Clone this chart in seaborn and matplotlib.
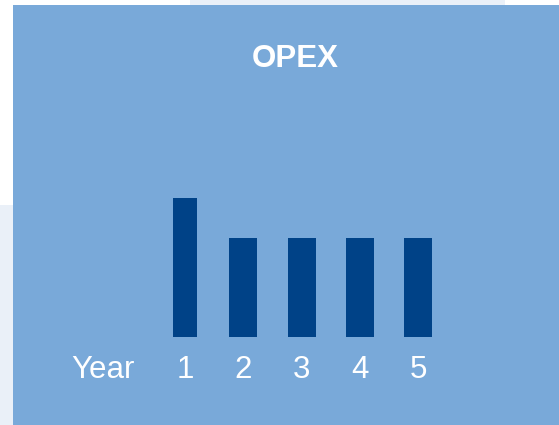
import matplotlib
matplotlib.use("Agg")
import matplotlib.pyplot as plt
import matplotlib.patches as mpatches
import pandas as pd
import seaborn as sns

sns.set_style("white")
plt.rcParams["font.family"] = ["Liberation Sans", "DejaVu Sans"]

# Data
years = ["1", "2", "3", "4", "5"]
opex = [140, 100, 100, 100, 100]
axis_label = "Year"
title = "OPEX"

panel_color = "#79A9D9"
bar_color = "#004287"

df = pd.DataFrame({"year": years, "opex": opex})

fig = plt.figure(figsize=(5.59, 4.25), dpi=100)
fig.patch.set_facecolor("white")

# faint background strips behind the panel
fig.patches.append(mpatches.Rectangle((0, 0), 13 / 559, 220 / 425, transform=fig.transFigure,
                                      facecolor="#EAF0F8", edgecolor="none", zorder=0))
fig.patches.append(mpatches.Rectangle((190 / 559, 420 / 425), 315 / 559, 5 / 425, transform=fig.transFigure,
                                      facecolor="#EAF0F8", edgecolor="none", zorder=0))

ax = fig.add_axes([13 / 559, 0, 546 / 559, 420 / 425])
ax.set_facecolor(panel_color)

sns.barplot(data=df, x="year", y="opex", color=bar_color, width=0.48, saturation=1,
            linewidth=0, edgecolor="none", ax=ax)

# first bar is a bit narrower
p = ax.patches[0]
cx = p.get_x() + p.get_width() / 2
p.set_width(0.41)
p.set_x(cx - 0.205)

ax.set_xlim(-2.953, 6.42)
ax.set_ylim(-88.9, 335.3)

for i, y in enumerate(years):
    ax.text(i, -33, y, color="white", fontsize=22.5, ha="center", va="center")
ax.text(-1.41, -33, axis_label, color="white", fontsize=22.5, ha="center", va="center")

ax.text((295 - 13) / 546, 0.872, title, transform=ax.transAxes, color="white", fontsize=22.5,
        fontweight="bold", ha="center", va="center")

ax.set_xticks([])
ax.set_yticks([])
ax.set_xlabel("")
ax.set_ylabel("")
sns.despine(ax=ax, left=True, bottom=True)

fig.savefig("out.png", dpi=100)
